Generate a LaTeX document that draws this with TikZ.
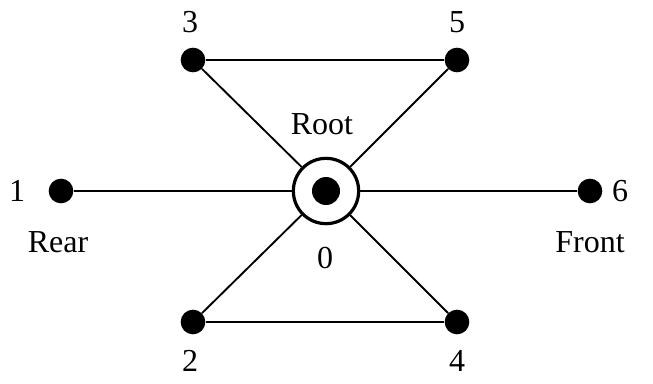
\documentclass[tikz,border=0pt]{standalone}
\usepackage{fontspec}
\setmainfont{Liberation Serif}
\usetikzlibrary{positioning}

\begin{document}
\begin{tikzpicture}[x=0.75pt,y=-0.75pt,
  vert/.style={circle, fill=black, inner sep=0pt, minimum size=18.5pt},
  rootnode/.style={circle, draw=black, fill=white, line width=2.4pt, inner sep=0pt, minimum size=49pt},
  rootdot/.style={circle, fill=black, inner sep=0pt, minimum size=21pt},
  lbl/.style={inner sep=0pt, font=\fontsize{24}{28}\selectfont},
  edge/.style={draw=black, line width=1.4pt}]

\useasboundingbox (0,0) rectangle (653,383);

\node[rootnode] (root) at (326,191) {};
\node[rootdot] (rootc) at (root.center) {};

\node[vert] (v1) at (61,191) {};
\node[vert] (v2) at (193,322) {};
\node[vert] (v3) at (193,60) {};
\node[vert] (v4) at (457,322) {};
\node[vert] (v5) at (457,60) {};
\node[vert] (v6) at (590,191) {};

\draw[edge] (v3) -- (v5);
\draw[edge] (v2) -- (v4);
\draw[edge] (v1) -- (root);
\draw[edge] (root) -- (v6);
\draw[edge] (v3) -- (root);
\draw[edge] (v5) -- (root);
\draw[edge] (v2) -- (root);
\draw[edge] (v4) -- (root);

\node[lbl] (t1) at (17,191) {1};
\node[lbl] (t2) at (190,361) {2};
\node[lbl] (t3) at (190,22) {3};
\node[lbl] (t4) at (457,361) {4};
\node[lbl] (t5) at (457,22) {5};
\node[lbl] (t6) at (620,191) {6};
\node[lbl] (t0) at (325,258) {0};
\node[lbl] (troot) at (322,124) {Root};
\node[lbl] (trear) at (58,242) {Rear};
\node[lbl] (tfront) at (590,242) {Front};

\end{tikzpicture}
\end{document}
